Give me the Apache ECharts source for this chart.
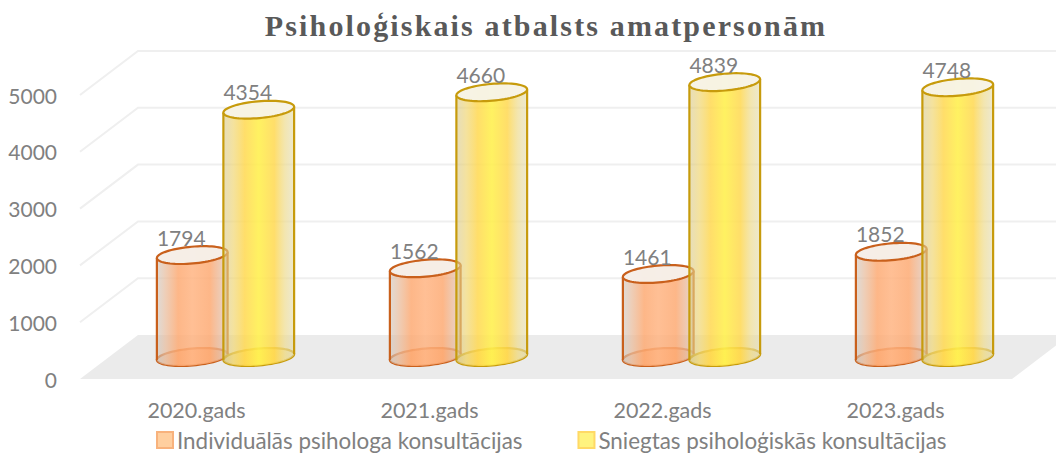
<!DOCTYPE html>
<html><head><meta charset="utf-8">
<style>
html,body{margin:0;padding:0;background:#fff}
#c{width:1056px;height:453px}
svg text[style*="Liberation Serif"]{letter-spacing:2.15px}
</style>
<script src="https://cdn.jsdelivr.net/npm/echarts@6/dist/echarts.min.js"></script>
</head><body><div id="c"></div>
<script>
const categories = ['2020.gads','2021.gads','2022.gads','2023.gads'];
const individual = [1794,1562,1461,1852];
const provided = [4354,4660,4839,4748];
const yTicks = [1000,2000,3000,4000,5000];
const titleText = 'Psiholoģiskais atbalsts amatpersonām';
const seriesNames = ['Individuālās psihologa konsultācijas','Sniegtas psiholoģiskās konsultācijas'];

const DX = 58, DY = 44;           // depth of the 3D box
const RX = 35.5, RY = 8.4, TILT = 5 * Math.PI / 180;

function ellPts(cx, cy, t0, t1, n) {
  const pts = [], c = Math.cos(TILT), s = Math.sin(TILT);
  for (let i = 0; i <= n; i++) {
    const t = t0 + (t1 - t0) * i / n;
    const ex = RX * Math.cos(t), ey = RY * Math.sin(t);
    pts.push([cx + ex * c + ey * s, cy - ex * s + ey * c]);
  }
  return pts;
}
function grad(stops) {
  return {type:'linear',x:0,y:0,x2:1,y2:0,colorStops:stops.map(a=>({offset:a[0],color:a[1]}))};
}
const styles = [
  {line:'#c9601c', top:'#f6f0eb', colors:[[0,'rgba(205,195,185,.6)'],[.12,'rgba(232,190,160,.75)'],[.3,'rgba(253,170,115,.85)'],[.5,'rgba(255,180,130,.85)'],[.75,'rgba(253,170,115,.85)'],[.9,'rgba(232,185,155,.75)'],[1,'rgba(205,195,185,.6)']], legend:'#ffcf9f', legendB:'#f8b27c', off:-33.25},
  {line:'#c79b0c', top:'#f7f3e9', colors:[[0,'rgba(215,200,140,.6)'],[.14,'rgba(240,215,120,.72)'],[.3,'rgba(255,216,80,.85)'],[.5,'rgba(255,240,80,.9)'],[.72,'rgba(255,216,80,.85)'],[.87,'rgba(238,220,145,.72)'],[1,'rgba(225,218,175,.6)']], legend:'#fff37f', legendB:'#ffd966', off:33.25}
];

function cylinder(si) {
  return function (params, api) {
    const st = styles[si];
    const top = api.coord([api.value(0), api.value(1)]);
    const base = api.coord([api.value(0), 0]);
    const cx = base[0] + DX / 2 + st.off;
    const by = base[1] - DY / 2, ty = top[1] - DY / 2;
    const ang = Math.atan2(RY * Math.sin(TILT), RX * Math.cos(TILT)); // silhouette param
    const L = Math.PI + ang, R = ang;
    const lowArc = ellPts(cx, by, L, R, 40);
    const upArc = ellPts(cx, ty, R, R - Math.PI, 40);
    const fill = grad(st.colors);
    const lb = lowArc[0], rb = lowArc[40], lt = upArc[40], rt = upArc[0];
    const lineStyle = {stroke: st.line, lineWidth: 2.2, fill: 'none'};
    return {type:'group', children:[
      {type:'polygon', shape:{points: ellPts(cx, by, 0, Math.PI*2, 72)}, style:{fill: fill, stroke: st.line, lineWidth: 2.2}},
      {type:'polygon', shape:{points: lowArc.concat(upArc)}, style:{fill: fill}},
      {type:'polyline', shape:{points:[lb,lt]}, style:lineStyle},
      {type:'polyline', shape:{points:[rb,rt]}, style:lineStyle},
      {type:'polygon', shape:{points: ellPts(cx, ty, 0, Math.PI*2, 72)}, style:{fill: st.top, fillOpacity:.95, stroke: st.line, lineWidth: 2.2}},
      {type:'text', style:{text:String(api.value(1)), x:cx-11, y:ty-18, align:'center', verticalAlign:'middle', font:'21px Lato', fill:'#808080'}}
    ]};
  };
}
function wall(params, api) {
  const g = params.coordSys;
  const v = api.value(0);
  const y = api.coord([0, v])[1];
  const x0 = g.x;
  const sty = {stroke:'#efefef', lineWidth:2, fill:'none'};
  return {type:'polyline', shape:{points:[[x0,y],[x0+DX,y-DY],[x0+g.width+DX,y-DY]]}, style:sty, silent:true};
}
function floor(params, api) {
  const g = params.coordSys;
  const y = api.coord([0, 0])[1];
  return {type:'polygon', shape:{points:[[g.x,y],[g.x+DX,y-DY],[g.x+g.width+DX,y-DY],[g.x+g.width,y]]}, style:{fill:'#ebebeb'}, silent:true};
}

const chart = echarts.init(document.getElementById('c'), null, {renderer:'svg'});
chart.setOption({
  animation:false,
  backgroundColor:'#fff',
  title:{text:titleText, left:541, top:5, textAlign:'center',
    textStyle:{fontFamily:'Liberation Serif', fontWeight:'bold', fontSize:30, color:'#595959'}},
  legend:{left:156, top:429, padding:0, itemWidth:16, itemHeight:16, itemGap:55, icon:'rect',
    textStyle:{fontFamily:'Lato', fontSize:22.4, color:'#808080', padding:[0,0,0,-1]},
    data:seriesNames},
  grid:{left:80, right:44, top:95, bottom:74},
  xAxis:{type:'category', data:categories, axisLine:{show:false}, axisTick:{show:false}, splitLine:{show:false},
    axisLabel:{margin:20, fontFamily:'Lato', fontSize:21.5, color:'#808080'}},
  yAxis:{type:'value', min:0, max:5000, interval:1000, axisLine:{show:false}, axisTick:{show:false}, splitLine:{show:false},
    axisLabel:{margin:23, fontFamily:'Lato', fontSize:21, color:'#808080', padding:[0,0,4,0], formatter:v=>String(v)}},
  series:[
    {type:'custom', silent:true, z:1, data:yTicks.map(v=>[v]), renderItem:wall, encode:{y:0}, legendHoverLink:false},
    {type:'custom', silent:true, z:1, data:[[0]], renderItem:floor, encode:{y:0}},
    {type:'custom', name:seriesNames[0], z:2, data:individual.map((v,i)=>[i,v]), renderItem:cylinder(0), encode:{x:0,y:1},
      itemStyle:{color:styles[0].legend, borderColor:styles[0].legendB, borderWidth:2}},
    {type:'custom', name:seriesNames[1], z:3, data:provided.map((v,i)=>[i,v]), renderItem:cylinder(1), encode:{x:0,y:1},
      itemStyle:{color:styles[1].legend, borderColor:styles[1].legendB, borderWidth:2}}
  ]
});
</script></body></html>
